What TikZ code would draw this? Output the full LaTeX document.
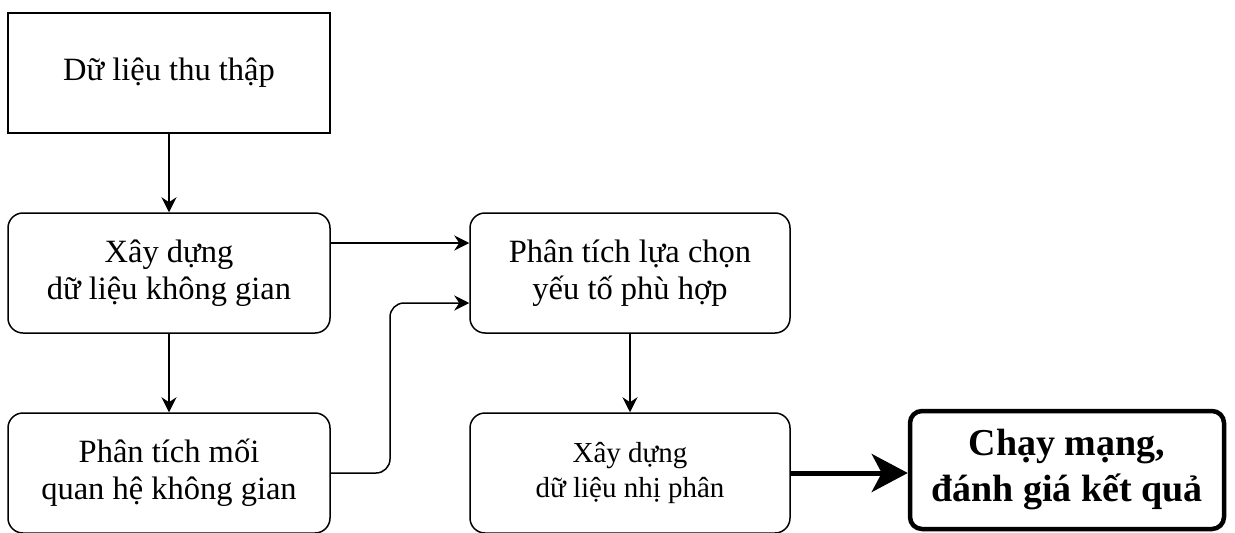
\documentclass[tikz,border=0pt]{standalone}
\usepackage{fontspec}
\setmainfont{Liberation Serif}
\usetikzlibrary{arrows.meta}
\begin{document}
\begin{tikzpicture}[x=1pt,y=-1pt,
  box/.style={draw, line width=1.5pt, minimum width=322pt, minimum height=120pt,
    align=center, inner sep=0pt, text=black},
  rbox/.style={box, rounded corners=15pt},
  txt/.style={font=\fontsize{32.5}{37}\selectfont},
  smalltxt/.style={font=\fontsize{29}{35}\selectfont},
  bigtxt/.style={font=\fontsize{38}{46}\selectfont\bfseries},
  link/.style={line width=1.5pt, -{Stealth[length=15pt,width=15pt,inset=5pt]}},
  boldlink/.style={line width=5pt, -{Stealth[length=36pt,width=38pt,inset=10pt]}}]
\useasboundingbox (0,0) rectangle (1235,533);

\node[box, txt] (collect) at (169,73) {Dữ liệu thu thập};
\node[rbox, txt] (spatial) at (169,273) {Xây dựng\\dữ liệu không gian};
\node[rbox, txt] (relation) at (169,473) {Phân tích mối\\quan hệ không gian};
\node[rbox, txt, minimum width=320pt] (select) at (630,273) {Phân tích lựa chọn\\yếu tố phù hợp};
\node[rbox, smalltxt, minimum width=320pt] (binary) at (630,473) {Xây dựng\\dữ liệu nhị phân};
\node[box, bigtxt, line width=4.5pt, rounded corners=12pt, minimum width=314pt,
  minimum height=118pt] (run) at (1067,470) {Chạy mạng,\\đánh giá kết quả};

\coordinate (bend) at (390,473);

\draw[link] (collect) -- (spatial);
\draw[link] (spatial) -- (relation);
\draw[link] (spatial.east |- 0,243) -- (select.west |- 0,243);
\draw[link, rounded corners=14pt] (relation.east) -- (bend) |- (select.west |- 0,303);
\draw[link] (select) -- (binary);
\draw[boldlink] (binary.east) -- (run.west |- binary.east);
\end{tikzpicture}
\end{document}
